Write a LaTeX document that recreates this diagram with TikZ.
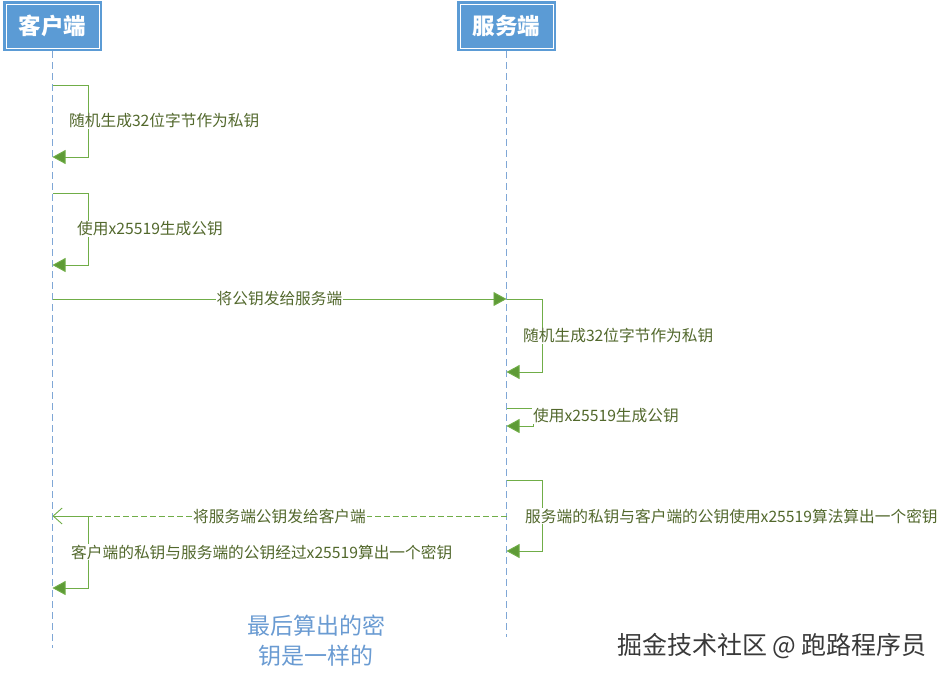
\documentclass[tikz,border=0pt]{standalone}
\usepackage{fontspec}
\setmainfont{Noto Sans CJK SC}
\usetikzlibrary{arrows.meta,positioning,calc}
\definecolor{boxblue}{HTML}{5B9BD5}
\definecolor{lineblue}{HTML}{7FA7D6}
\definecolor{msggreen}{HTML}{70AD47}
\definecolor{tipgreen}{HTML}{5E9B36}
\definecolor{labelolive}{HTML}{52682C}
\definecolor{noteblue}{HTML}{6A9BD2}

\begin{document}
\begin{tikzpicture}[x=1pt,y=-1pt,
font=\fontsize{15.7}{18}\selectfont,
actor/.style={fill=boxblue,draw=white,line width=0.8pt,minimum width=93pt,minimum height=44pt,outer sep=3pt,
  preaction={draw=boxblue,line width=6pt},text=white,font=\fontsize{22.5}{26}\selectfont\bfseries},
lifeline/.style={draw=lineblue,dash pattern=on 7pt off 4pt,line width=0.8pt},
msg/.style={draw=msggreen,line width=0.9pt,-{Triangle[length=13pt,width=14pt,fill=tipgreen]}},
reply/.style={draw=msggreen,line width=0.9pt,dash pattern=on 6pt off 3pt,-{Straight Barb[length=9pt,width=16pt]}},
msglabel/.style={fill=white,text=labelolive,inner sep=1pt},
looplabel/.style={msglabel,anchor=west}]
\useasboundingbox (0,0) rectangle (949,681);

% actors and lifelines
\node[actor] (client) at (52.5,26) {客户端};
\node[actor] (server) at (506.5,26) {服务端};
\coordinate (clientEnd) at (52.5,648);
\coordinate (serverEnd) at (506.5,637);
\draw[lifeline] (client.south) -- (clientEnd);
\draw[lifeline] (server.south) -- (serverEnd);

% client: private key, public key
\coordinate (c1) at (52.5,85);
\coordinate (c1r) at (52.5,157);
\draw[msg] (c1) -- ++(36,0) |- (c1r);
\node[looplabel] (l1) at (68,121) {随机生成32位字节作为私钥};
\coordinate (c2) at (52.5,193);
\coordinate (c2r) at (52.5,265);
\draw[msg] (c2) -- ++(36,0) |- (c2r);
\node[looplabel] (l2) at (76,229) {使用x25519生成公钥};

% client -> server
\coordinate (m1c) at (52.5,299);
\coordinate (m1s) at (506.5,299);
\draw[msg] (m1c) -- node[msglabel] (m1) {将公钥发给服务端} (m1s);

% server: private key, public key, shared key
\coordinate (s1r) at (506.5,372);
\draw[msg] (m1s) -- ++(36,0) |- (s1r);
\node[looplabel] (l3) at (522,336) {随机生成32位字节作为私钥};
\coordinate (s2) at (506.5,408);
\coordinate (s2r) at (506.5,426);
\draw[msg] (s2) -- ++(27,0) |- (s2r);
\node[looplabel] (l4) at (532,416) {使用x25519生成公钥};
\coordinate (s3) at (506.5,480);
\coordinate (s3r) at (506.5,551);
\draw[msg] (s3) -- ++(36,0) |- (s3r);
\node[looplabel] (l5) at (524,516) {服务端的私钥与客户端的公钥使用x25519算法算出一个密钥};

% server -> client
\coordinate (m2s) at (506.5,516);
\coordinate (m2c) at (52.5,516);
\draw[reply] (m2s) -- node[msglabel] (m2) {将服务端公钥发给客户端} (m2c);

% client: shared key
\coordinate (c3r) at (52.5,588);
\draw[msg] (m2c) -- ++(36,0) |- (c3r);
\node[looplabel] (l6) at (70,552) {客户端的私钥与服务端的公钥经过x25519算出一个密钥};

\node[text=noteblue,font=\fontsize{23}{30}\selectfont,align=center] (note) at (316,641) {最后算出的密\\钥是一样的};
\node[text=gray!45!black,font=\fontsize{25}{28}\selectfont] (mark) at (772,646) {掘金技术社区 @ 跑路程序员};
\end{tikzpicture}
\end{document}
